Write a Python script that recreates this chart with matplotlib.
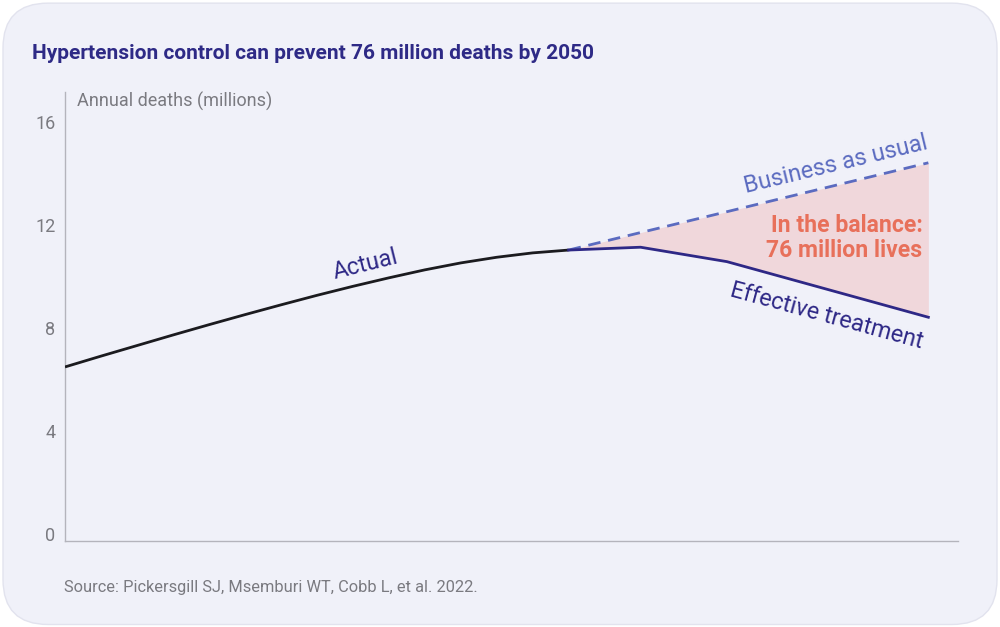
import matplotlib
matplotlib.use("Agg")
import matplotlib.pyplot as plt
from matplotlib.patches import FancyBboxPatch

plt.rcParams['font.family'] = ['Roboto', 'DejaVu Sans']

# data (millions of annual deaths)
actual_years = [1990, 1992.5, 1995, 1997.5, 2000, 2002.5, 2005, 2007.5,
                2010, 2012.5, 2015, 2017.5, 2020, 2022.5, 2025]
actual_vals = [6.76, 7.18, 7.59, 8.00, 8.40, 8.79, 9.17, 9.54,
               9.89, 10.22, 10.53, 10.80, 11.02, 11.19, 11.30]

proj_years = [2025, 2030, 2036, 2050]
bau_vals = [11.30, 11.98, 12.79, 14.69]
effective_vals = [11.30, 11.41, 10.85, 8.69]

yticks = [0, 4, 8, 12, 16]

title = "Hypertension control can prevent 76 million deaths by 2050"
ylabel = "Annual deaths (millions)"
source = "Source: Pickersgill SJ, Msemburi WT, Cobb L, et al. 2022."

C_TITLE = "#2e2a86"
C_ACTUAL = "#1b1b1f"
C_EFF = "#2e2886"
C_BAU = "#5b6bc0"
C_FILL = "#f0d7db"
C_BAL = "#e8705a"
C_GREY = "#7a7a80"
C_BG = "#f0f1f9"

fig = plt.figure(figsize=(10, 6.27), dpi=100)
fig.patch.set_facecolor("white")
card = FancyBboxPatch((0.003, 0.004), 0.994, 0.991,
                      boxstyle="round,pad=0,rounding_size=0.045",
                      transform=fig.transFigure, facecolor=C_BG,
                      edgecolor="#e2e3ee", linewidth=1, zorder=-5,
                      mutation_aspect=1000 / 627)
fig.patches.append(card)

ax = fig.add_axes([0.065, 0.1372, 0.893, 0.7161])
ax.set_zorder(2)
ax.set_facecolor("none")

ax.fill_between(proj_years, effective_vals, bau_vals, color=C_FILL, lw=0, zorder=1)
ax.plot(actual_years, actual_vals, color=C_ACTUAL, lw=2.0, zorder=3,
        solid_capstyle="butt")
ax.plot(proj_years, bau_vals, color=C_BAU, lw=2.0, ls=(0, (4.5, 2.8)), zorder=2)
ax.plot(proj_years, effective_vals, color=C_EFF, lw=2.0, zorder=3)

ax.set_xlim(1990, 2052.06)
ax.set_ylim(0, 17.44)
ax.set_xticks([])
ax.set_yticks(yticks)
ax.set_yticklabels([str(t) for t in yticks])
for lab in ax.get_yticklabels():
    lab.set_verticalalignment("baseline")
ax.tick_params(axis="y", length=0, pad=7, labelsize=13, labelcolor=C_GREY)
for s in ["top", "right"]:
    ax.spines[s].set_visible(False)
for s in ["left", "bottom"]:
    ax.spines[s].set_color("#b4b4bc")
    ax.spines[s].set_linewidth(1)

ax.text(0.0135, 1.0, ylabel, transform=ax.transAxes, ha="left", va="top",
        fontsize=13, color=C_GREY)

ax.text(2010.9, 10.72, "Actual", rotation=14, ha="center", va="center",
        fontsize=16.8, color=C_EFF, rotation_mode="anchor")
ax.text(2043.6, 14.62, "Business as usual", rotation=13.6, ha="center",
        va="center", fontsize=16.8, color=C_BAU, rotation_mode="anchor")
ax.text(2042.9, 8.75, "Effective treatment", rotation=-15.3, ha="center",
        va="center", fontsize=16.8, color=C_EFF, rotation_mode="anchor")
ax.text(2049.6, 11.77, "In the balance:\n76 million lives", ha="right",
        va="center", fontsize=16.6, fontweight="bold", color=C_BAL,
        linespacing=1.15)

fig.text(0.032, 0.915, title, ha="left", va="center", fontsize=15,
         fontweight="bold", color=C_TITLE)
fig.text(0.064, 0.063, source, ha="left", va="center", fontsize=11.8,
         color=C_GREY)

fig.savefig("out.png", dpi=100, facecolor=fig.get_facecolor())
